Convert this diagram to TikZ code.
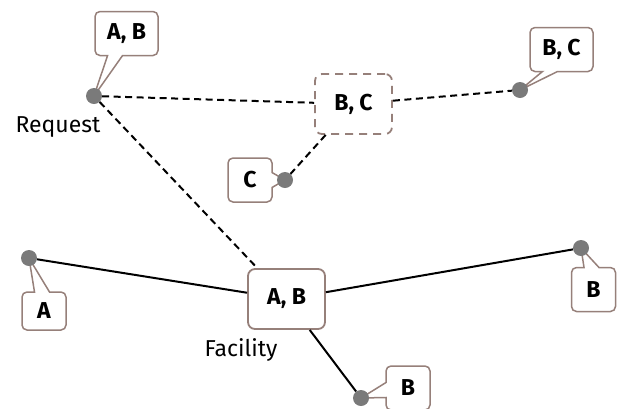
\documentclass[tikz,border=0pt]{standalone}
\usepackage{fontspec}
\setmainfont{Fira Sans}
\usepackage{tikz}
\usetikzlibrary{shapes.callouts,backgrounds}
\definecolor{boxedge}{RGB}{150,128,122}
\definecolor{dotgray}{RGB}{122,122,122}

\begin{document}
\begin{tikzpicture}[
  x=1pt, y=-1pt,
  dot/.style={circle, fill=dotgray, inner sep=0pt, minimum size=16pt},
  site/.style={draw=boxedge, line width=1.8pt, rounded corners=7pt, fill=white,
               font=\fontsize{23}{27}\selectfont\bfseries,
               minimum width=77pt, minimum height=60pt},
  tag/.style={rectangle callout, draw=boxedge, line width=1.5pt, rounded corners=5pt,
              fill=white, font=\fontsize{23}{27}\selectfont\bfseries,
              callout pointer width=15pt, inner sep=2pt,
              minimum width=44pt, minimum height=44pt},
  lab/.style={font=\fontsize{23}{27}\selectfont},
  link/.style={line width=2pt},
  plan/.style={link, dash pattern=on 7pt off 4.5pt}
]
\useasboundingbox (0,0) rectangle (617,408);
% points
\node[dot] (req) at (94,96) {};
\node[dot] (rbc) at (520,90) {};
\node[dot] (c) at (285,180) {};
\node[dot] (a) at (29,258) {};
\node[dot] (rb) at (581,248) {};
\node[dot] (bb) at (361,398) {};
% boxes
\node[site] (fac) at (286.5,299) {A, B};
\node[site, dash pattern=on 8pt off 6pt] (bc) at (353.5,104) {B, C};
\node[lab] (reqlab) at (58,127) {Request};
\node[lab] (faclab) at (241,350) {Facility};
% tags
\begin{scope}[on background layer]
\node[tag, minimum width=63pt, callout absolute pointer=(req)] (reqtag) at (126.5,33.5) {A, B};
\node[tag, minimum width=63pt, callout absolute pointer=(rbc)] (rbctag) at (561.5,49.5) {B, C};
\node[tag, callout absolute pointer=(c)] (ctag) at (250,180) {C};
\node[tag, minimum height=38pt, callout absolute pointer=(a)] (atag) at (44,311) {A};
\node[tag, callout absolute pointer=(rb)] (rbtag) at (593.5,289.5) {B};
\node[tag, callout absolute pointer=(bb)] (bbtag) at (408,388) {B};
\end{scope}
% links
\draw[plan] (req) -- (bc);
\draw[plan] (bc) -- (rbc);
\draw[plan] (bc) -- (c);
\draw[plan] (req) -- (fac);
\draw[link] (a) -- (fac);
\draw[link] (fac) -- (rb);
\draw[link] (fac) -- (bb);
\end{tikzpicture}
\end{document}
